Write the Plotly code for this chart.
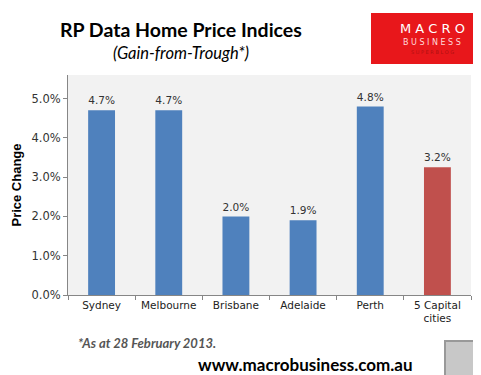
import plotly.graph_objects as go

categories = ["Sydney", "Melbourne", "Brisbane", "Adelaide", "Perth", "5 Capital<br>cities"]
values = [4.7, 4.7, 2.0, 1.9, 4.8, 3.25]
labels = ["4.7%", "4.7%", "2.0%", "1.9%", "4.8%", "3.2%"]
colors = ["#4F81BD"] * 5 + ["#C0504D"]
yticks = [0, 1, 2, 3, 4, 5]
yticklabels = ["0.0%", "1.0%", "2.0%", "3.0%", "4.0%", "5.0%"]

L, R, T, B = 60, 18, 67, 88
W, H = 481, 375

fig = go.Figure()
fig.add_trace(go.Bar(
    x=categories, y=values, marker=dict(color=colors, line=dict(width=0)),
    width=0.4, text=labels, textposition="outside", cliponaxis=False,
    textfont=dict(family="DejaVu Sans", size=11, color="#333333"),
))

fig.update_layout(
    width=W, height=H,
    margin=dict(l=L, r=R, t=T, b=B, autoexpand=False),
    paper_bgcolor="white", plot_bgcolor="#F2F2F2",
    showlegend=False,
    font=dict(family="DejaVu Sans", size=11, color="#333333"),
    xaxis=dict(showline=True, linecolor="#868686", linewidth=1, ticks="outside",
               tickson="boundaries", ticklen=4, tickcolor="#868686", tickangle=0,
               automargin=False,
               tickfont=dict(family="DejaVu Sans", size=10.5, color="#222222")),
    yaxis=dict(range=[0, 5.6], tickvals=yticks, ticktext=yticklabels,
               showline=True, linecolor="#868686", linewidth=1, ticks="outside",
               ticklen=4, tickcolor="#868686", showgrid=False, zeroline=False,
               automargin=False,
               tickfont=dict(family="DejaVu Sans", size=11.5, color="#333333"),
               title=dict(text="<b>Price Change</b>", standoff=6,
                          font=dict(family="Liberation Sans Narrow, Liberation Sans", size=13, color="black"))),
)

def fx(px):
    return (px - L) / (W - L - R)
def fy(py):
    return 1 - (py - T) / (H - T - B)

texts = [
    ("<b>RP Data Home Price Indices</b>", 173, 21, 19.5, "black"),
    ("<i>(Gain-from-Trough*)</i>", 173, 45, 16.5, "black"),
    ("<b><i>*As at 28 February 2013.</i></b>", 139, 335, 13, "#555555"),
    ("<b>www.macrobusiness.com.au</b>", 297, 356, 17, "black"),
]
for t, x, y, s, c in texts:
    fig.add_annotation(text=t, xref="paper", yref="paper", x=fx(x), y=fy(y),
                       xanchor="center", yanchor="middle", showarrow=False,
                       font=dict(family="Lato", size=s, color=c))

# logo box
fig.add_shape(type="rect", xref="paper", yref="paper", x0=fx(363), x1=fx(471), y0=fy(56), y1=fy(5),
              fillcolor="#E8171B", line=dict(width=0), layer="above")
fig.add_annotation(text="M A C R O", xref="paper", yref="paper", x=fx(424), y=fy(20), showarrow=False,
                   font=dict(family="DejaVu Sans", size=13, color="white"), xanchor="center", yanchor="middle")
fig.add_annotation(text="B U S I N E S S", xref="paper", yref="paper", x=fx(424), y=fy(34), showarrow=False,
                   font=dict(family="DejaVu Sans", size=8, color="#FFDADA"), xanchor="center", yanchor="middle")
fig.add_annotation(text="S U P E R B L O G", xref="paper", yref="paper", x=fx(424), y=fy(44), showarrow=False,
                   font=dict(family="DejaVu Sans", size=5, color="#B01010"), xanchor="center", yanchor="middle")
# wolf image placeholder
fig.add_shape(type="rect", xref="paper", yref="paper", x0=fx(437), x1=fx(470), y0=fy(368), y1=fy(333),
              fillcolor="#C8C8C8", line=dict(color="#999999", width=2), layer="above")

fig.write_html("out.html")
